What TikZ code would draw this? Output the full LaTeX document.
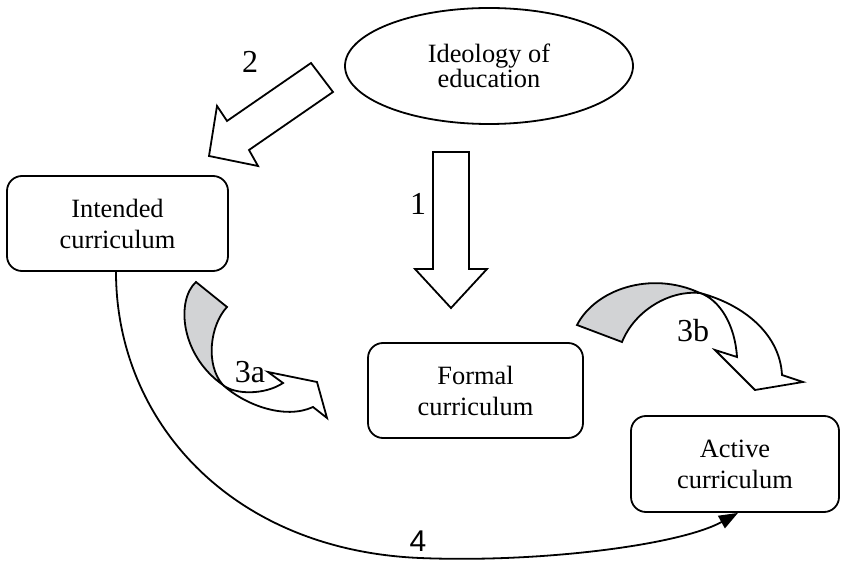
\documentclass[tikz,border=0pt]{standalone}
\usepackage{fontspec}
\setmainfont{Liberation Serif}
\newfontfamily\sansfour{Liberation Sans}
\usetikzlibrary{shapes.geometric,arrows.meta}
\definecolor{shade3d}{RGB}{210,211,213}
\begin{document}
\begin{tikzpicture}[x=0.5pt,y=-0.5pt,line width=0.9pt,
  box/.style={draw,rounded corners=7.5pt,align=center,inner sep=0pt,
    font=\fontsize{13.2}{15.5}\selectfont},
  oval/.style={draw,ellipse,align=center,inner sep=0pt,
    font=\fontsize{13.2}{12.8}\selectfont},
  numlabel/.style={inner sep=0pt,font=\fontsize{16}{17}\selectfont},
  blockarrow/.style={draw,fill=white,line join=miter},
  backside/.style={draw,fill=shade3d,line join=miter}]
\useasboundingbox (0,0) rectangle (841,561);

% nodes
\node[oval,minimum width=144pt,minimum height=58pt] (ide) at (489,66) {Ideology of\\education};
\node[box,minimum width=110.5pt,minimum height=47.5pt] (int) at (117.5,223.5) {Intended\\curriculum};
\node[box,minimum width=107.5pt,minimum height=47.5pt] (for) at (475.5,390.5) {Formal\\curriculum};
\node[box,minimum width=104pt,minimum height=48pt] (act) at (735,464) {Active\\curriculum};

% arrow 1
\draw[blockarrow] (433,152) -- (469,152) -- (469,269) -- (487,269) -- (451,308)
  -- (415,269) -- (433,269) -- cycle;
\node[numlabel] (l1) at (418,204) {1};

% arrow 2
\draw[blockarrow] (311,63) -- (333,92) -- (249,150) -- (258,166) -- (209,156)
  -- (217,106) -- (227,121) -- cycle;
\node[numlabel] (l2) at (250,62) {2};

% arrow 3a
\draw[backside] (196,282) .. controls (176,300) and (180,355) .. (223,385)
  .. controls (205,365) and (210,325) .. (227,307) -- cycle;
\draw[blockarrow] (223,385) .. controls (245,405) and (285,420) .. (313,407)
  -- (327,418) -- (317,382) -- (268,372) -- (283,383)
  .. controls (265,395) and (235,395) .. (223,385) -- cycle;
\node[numlabel] (l3a) at (250,372) {3a};

% arrow 3b
\draw[backside] (577,325) .. controls (595,290) and (650,270) .. (700,293)
  .. controls (670,290) and (635,310) .. (622,342) -- cycle;
\draw[blockarrow] (700,293) .. controls (745,305) and (780,335) .. (782,375)
  -- (803,382) -- (755,390) -- (715,350) -- (737,357)
  .. controls (735,325) and (720,300) .. (700,293) -- cycle;
\node[numlabel] (l3b) at (693,331) {3b};

% connector 4
\draw[-{Triangle[length=9.5pt,width=7pt]}] ([xshift=-0.75pt]int.south)
  .. controls (116,420) and (230,550) .. (420,558)
  .. controls (540,563) and (680,545) .. ([xshift=1.5pt]act.south);
\node[inner sep=0pt,font=\sansfour\fontsize{15}{16}\selectfont] (l4) at (418,541) {4};
\end{tikzpicture}
\end{document}
